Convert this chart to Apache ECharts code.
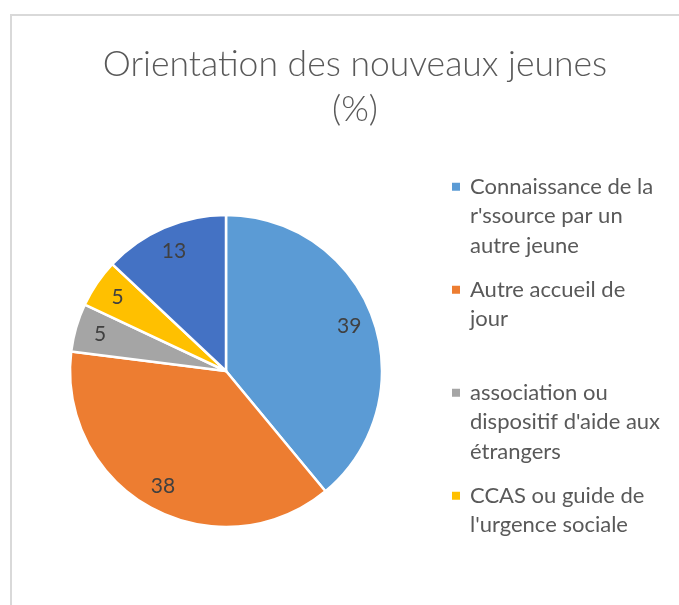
<!DOCTYPE html>
<html>
<head>
<meta charset="utf-8">
<title>Orientation des nouveaux jeunes</title>
<script src="https://cdn.jsdelivr.net/npm/echarts@6/dist/echarts.min.js"></script>
<style>
    html, body { margin: 0; padding: 0; background: #ffffff; }
    #frame { position: absolute; left: 10px; top: 14px; width: 700px; height: 620px; border: 2px solid #d9d9d9; }
    #main { position: absolute; left: 0; top: 0; width: 679px; height: 605px; }
</style>
</head>
<body>
<div id="frame"></div>
<div id="main"></div>
<script>
// catégories dans l'ordre du graphique (sens horaire depuis midi)
var categories = [
    "Connaissance de la r'ssource par un autre jeune",
    "Autre accueil de jour",
    "association ou dispositif d'aide aux étrangers",
    "CCAS ou guide de l'urgence sociale",
    "Autres"
];
// valeurs en %
var values = [39, 38, 5, 5, 13];
var colors = ['#5B9BD5', '#ED7D31', '#A5A5A5', '#FFC000', '#4472C4'];
// texte de la légende, coupé comme dans l'original (seules 4 entrées visibles)
var legendLines = [
    ["Connaissance de la", "r'ssource par un", "autre jeune"],
    ["Autre accueil de", "jour", ""],
    ["association ou", "dispositif d'aide aux", "étrangers"],
    ["CCAS ou guide de", "l'urgence sociale"]
];

var pieData = [];
for (var i = 0; i < categories.length; i++) {
    pieData.push({ name: categories[i], value: values[i], itemStyle: { color: colors[i] } });
}
var labelData = [];
for (var i = 0; i < categories.length; i++) {
    labelData.push({ name: categories[i], value: values[i] });
}

var LH = 29.5;
var rich = {
    t: { fontFamily: 'Lato', fontSize: 22, color: '#595959', lineHeight: LH },
    g: { width: 10, lineHeight: LH },
    s: { width: 18, lineHeight: LH }
};
for (var i = 0; i < legendLines.length; i++) {
    rich['i' + i] = { width: 8, height: 8, backgroundColor: colors[i], lineHeight: LH };
}

var myChart = echarts.init(document.getElementById('main'));
var option = {
    animation: false,
    title: {
        text: 'Orientation des nouveaux jeunes\n(%)',
        left: 350,
        textAlign: 'center',
        top: 37,
        textStyle: {
            fontFamily: 'Lato',
            fontWeight: 300,
            fontSize: 35.5,
            color: '#595959',
            lineHeight: 45
        }
    },
    legend: {
        orient: 'vertical',
        left: 447,
        top: 172,
        padding: 0,
        icon: 'none',
        itemWidth: 0,
        itemHeight: 0,
        itemGap: 14.5,
        selectedMode: false,
        data: categories.slice(0, 4),
        formatter: function (name) {
            var idx = categories.indexOf(name);
            var lines = legendLines[idx];
            var out = '{i' + idx + '|}{g|}{t|' + lines[0] + '}';
            for (var k = 1; k < lines.length; k++) {
                out += '\n{s|}{t|' + (lines[k] || ' ') + '}';
            }
            return out;
        },
        textStyle: {
            fontFamily: 'Lato',
            fontSize: 22,
            color: '#595959',
            lineHeight: LH,
            rich: rich
        }
    },
    series: [
        {
            type: 'pie',
            center: [226, 371],
            radius: [0, 156],
            startAngle: 90,
            clockwise: true,
            label: { show: false },
            labelLine: { show: false },
            itemStyle: { borderColor: '#ffffff', borderWidth: 2.5 },
            emphasis: { disabled: true },
            data: pieData
        },
        {
            // anneau invisible servant à placer les étiquettes vers le bord
            type: 'pie',
            center: [226, 371],
            radius: [100, 156],
            startAngle: 90,
            clockwise: true,
            silent: true,
            itemStyle: { color: 'rgba(0,0,0,0)' },
            label: {
                show: true,
                position: 'inside',
                formatter: '{c}',
                fontFamily: 'Lato',
                fontSize: 21,
                color: '#404040'
            },
            labelLine: { show: false },
            emphasis: { disabled: true },
            data: labelData
        }
    ]
};
myChart.setOption(option);
</script>
</body>
</html>
